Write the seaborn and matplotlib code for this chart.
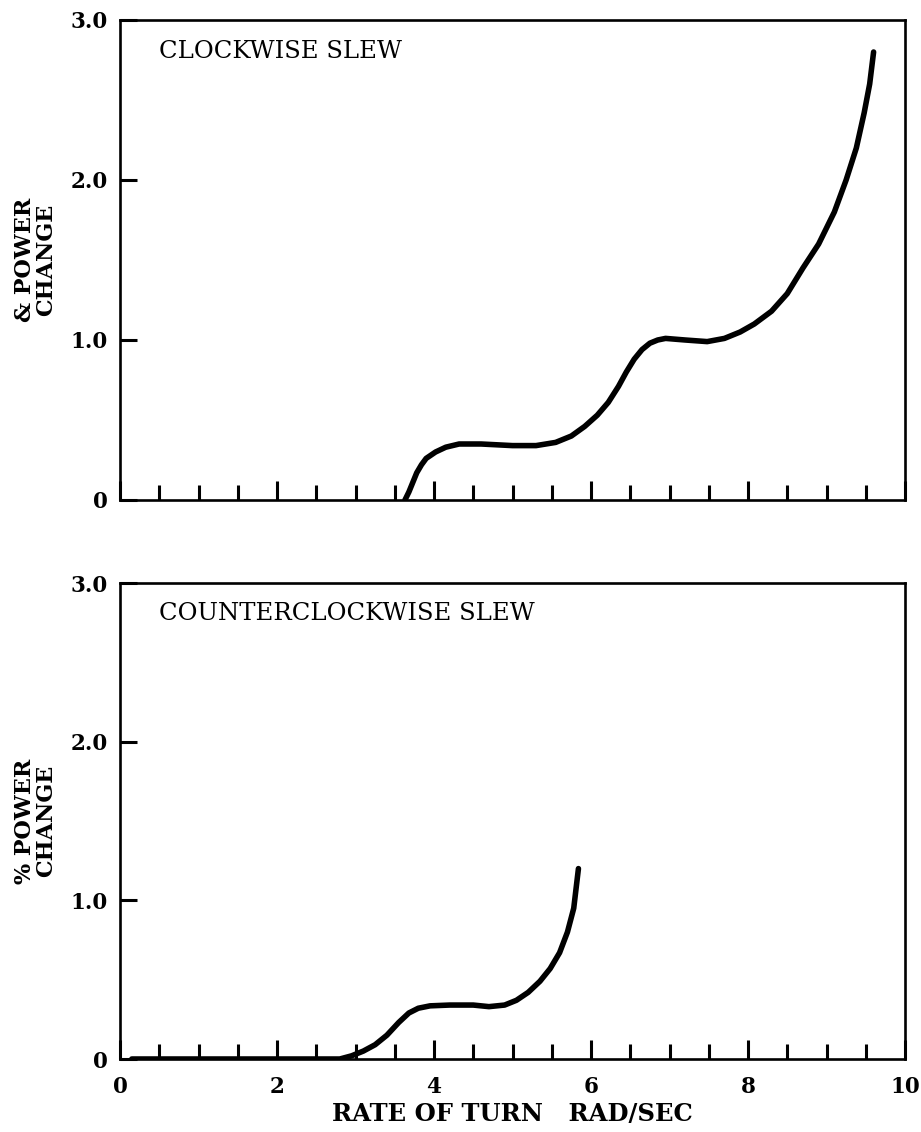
import numpy as np
import pandas as pd
import matplotlib
matplotlib.use("Agg")
import matplotlib.pyplot as plt
import seaborn as sns

# Rate of turn (rad/s) and percent power change, clockwise slew
cw_rate = [3.63, 3.68, 3.73, 3.78, 3.84, 3.90, 3.96, 4.02, 4.15, 4.32,
           4.60, 5.00, 5.30, 5.55, 5.75, 5.92, 6.08, 6.22, 6.35, 6.45,
           6.55, 6.65, 6.75, 6.85, 6.95, 7.20, 7.48, 7.70, 7.90, 8.08,
           8.30, 8.50, 8.70, 8.90, 9.10, 9.25, 9.38, 9.48, 9.55, 9.60]
cw_power = [0.00, 0.05, 0.11, 0.17, 0.22, 0.26, 0.28, 0.30, 0.33, 0.35,
            0.35, 0.34, 0.34, 0.36, 0.40, 0.46, 0.53, 0.61, 0.71, 0.80,
            0.88, 0.94, 0.98, 1.00, 1.01, 1.00, 0.99, 1.01, 1.05, 1.10,
            1.18, 1.29, 1.45, 1.60, 1.80, 2.00, 2.20, 2.42, 2.60, 2.80]

# Counterclockwise slew
ccw_rate = [0.15, 1.00, 2.00, 2.80, 2.95, 3.10, 3.25, 3.40, 3.55, 3.68,
            3.80, 3.95, 4.20, 4.50, 4.70, 4.90, 5.05, 5.20, 5.35, 5.48,
            5.60, 5.70, 5.78, 5.84]
ccw_power = [0.00, 0.00, 0.00, 0.00, 0.02, 0.05, 0.09, 0.15, 0.23, 0.29,
             0.32, 0.335, 0.34, 0.34, 0.33, 0.34, 0.37, 0.42, 0.49, 0.57,
             0.67, 0.80, 0.95, 1.20]

panel_titles = ["CLOCKWISE SLEW", "COUNTERCLOCKWISE SLEW"]
y_labels = ["& POWER\nCHANGE", "% POWER\nCHANGE"]
y_ticks = [0, 1, 2, 3]
y_ticklabels = ["0", "1.0", "2.0", "3.0"]
x_major = [0, 2, 4, 6, 8, 10]
x_ticklabels = ["0", "2", "4", "6", "8", "10"]
x_minor = [0.5, 1, 1.5, 2.5, 3, 3.5, 4.5, 5, 5.5, 6.5, 7, 7.5, 8.5, 9, 9.5]
x_label = "RATE OF TURN   RAD/SEC"

sns.set_style("white")
plt.rcParams["font.family"] = ["DejaVu Serif"]
plt.rcParams["text.color"] = "black"
plt.rcParams["xtick.color"] = "black"
plt.rcParams["ytick.color"] = "black"
plt.rcParams["axes.labelcolor"] = "black"

W, H = 921, 1132
fig = plt.figure(figsize=(W / 100, H / 100), dpi=100)

left, width = 120 / W, 785 / W
ax_top = fig.add_axes([left, 1 - 500 / H, width, 480 / H])
ax_bot = fig.add_axes([left, 1 - 1059 / H, width, 476 / H])

frames = [
    pd.DataFrame({"rate": cw_rate, "power": cw_power}),
    pd.DataFrame({"rate": ccw_rate, "power": ccw_power}),
]

for i, (ax, df) in enumerate(zip([ax_top, ax_bot], frames)):
    sns.lineplot(data=df, x="rate", y="power", ax=ax, color="black",
                 linewidth=4.0, estimator=None, sort=False,
                 solid_capstyle="round", solid_joinstyle="round")
    ax.set_xlim(0, 10)
    ax.set_ylim(0, 3)
    for s in ax.spines.values():
        s.set_visible(True)
        s.set_linewidth(1.9)
        s.set_color("black")

    ax.set_xticks(x_major)
    ax.set_xticks(x_minor, minor=True)
    ax.set_yticks(y_ticks)
    ax.set_yticklabels(y_ticklabels)
    ax.tick_params(axis="x", which="both", bottom=True, top=False)
    ax.tick_params(axis="y", which="both", left=True, right=False)
    ax.tick_params(axis="x", which="major", direction="in", length=14,
                   width=2.2, color="black", pad=12)
    ax.tick_params(axis="x", which="minor", direction="in", length=11,
                   width=2.2, color="black")
    ax.tick_params(axis="y", which="major", direction="in", length=12,
                   width=2.2, color="black", pad=9)
    for lab in ax.get_yticklabels():
        lab.set_fontweight("bold")
        lab.set_fontsize(15.5)

    if i == 1:
        ax.set_xticklabels(x_ticklabels, fontsize=15.5, fontweight="bold")
        ax.set_xlabel(x_label, fontsize=17.5, fontweight="bold", labelpad=3)
    else:
        ax.tick_params(axis="x", which="both", labelbottom=False)
        ax.set_xlabel("")

    ax.set_ylabel(y_labels[i], fontsize=16, fontweight="bold",
                  linespacing=0.95)
    ax.yaxis.label.set(rotation_mode="default", ha="center", va="center")
    ax.yaxis.set_label_coords(-0.107, 0.5)

    ax.text(0.05, 0.935, panel_titles[i], transform=ax.transAxes,
            fontsize=17.5, ha="left", va="center", color="black")

fig.savefig("out.png", dpi=100, facecolor="white")
